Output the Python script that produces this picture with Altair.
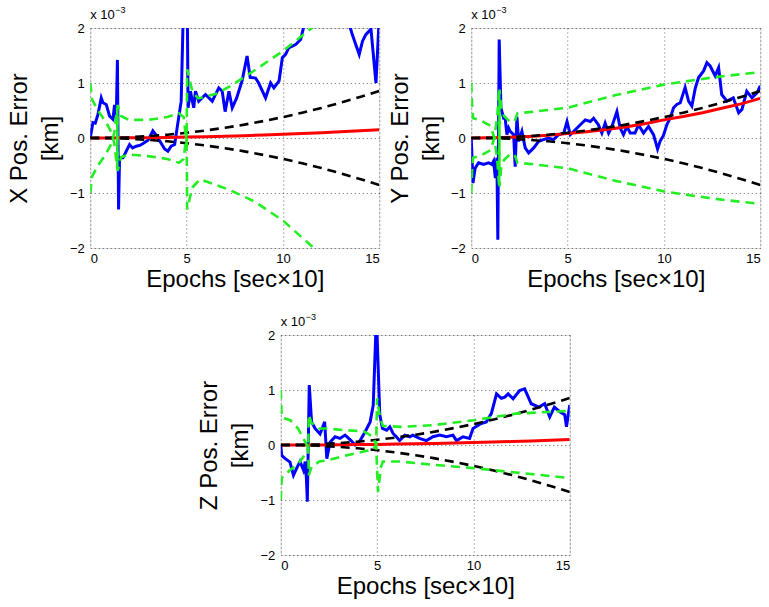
import altair as alt
import pandas as pd

FONT = "Liberation Sans"

# ---------------- data (values in units of 1e-3 km) ----------------
EPOCHS = [0, 1, 2, 3, 4, 5, 6, 7, 8, 9, 10, 11, 12, 13, 14, 15]
BOUND_UP = [0, 0.004, 0.015, 0.034, 0.06, 0.095, 0.137, 0.186, 0.243, 0.308, 0.38, 0.46, 0.547, 0.642, 0.745, 0.855]
BOUND_LO = [0, -0.004, -0.015, -0.034, -0.06, -0.095, -0.137, -0.186, -0.243, -0.308, -0.38, -0.46, -0.547, -0.642, -0.745, -0.855]

X_REF = [0, 0.001, 0.003, 0.006, 0.011, 0.017, 0.024, 0.033, 0.043, 0.054, 0.067, 0.081, 0.096, 0.113, 0.131, 0.15]
Y_REF = [0, 0.003, 0.012, 0.028, 0.05, 0.08, 0.115, 0.155, 0.2, 0.26, 0.33, 0.39, 0.46, 0.54, 0.62, 0.72]
Z_REF = [0, 0.001, 0.002, 0.004, 0.007, 0.011, 0.016, 0.022, 0.028, 0.036, 0.044, 0.053, 0.063, 0.074, 0.086, 0.1]

X_ERR = [(0, 0), (0.14, 0.28), (0.26, 0.27), (0.4, 0.43), (0.57, 0.73), (0.66, 0.64), (0.83, 0.61),
         (1.0, 0.4), (1.18, 0.34), (1.26, 0.6), (1.35, 0.37), (1.41, 1.42), (1.47, -1.3), (1.52, -0.36),
         (1.7, -0.36), (1.87, -0.24), (2.04, -0.12), (2.2, -0.18), (2.39, -0.15), (2.6, -0.13),
         (2.82, -0.08), (3.0, -0.04), (3.25, 0.13), (3.4, 0.06), (3.6, -0.05), (3.86, -0.2),
         (4.03, -0.24), (4.2, -0.15), (4.38, -0.12), (4.55, 0.28), (4.72, 0.67), (4.85, 2.6),
         (5.03, 2.6), (5.08, 0.55), (5.2, 0.85), (5.37, 0.55), (5.46, 0.85), (5.63, 0.67),
         (5.98, 0.79), (6.33, 0.67), (6.67, 0.91), (6.85, 0.85), (7.0, 0.48), (7.2, 0.85),
         (7.37, 0.55), (7.6, 0.73), (7.88, 1.04), (8.14, 1.49), (8.3, 1.1), (8.58, 1.09),
         (8.74, 1.0), (9.1, 0.73), (9.36, 1.0), (9.53, 0.91), (9.8, 1.04), (9.97, 1.46),
         (10.14, 1.52), (10.3, 1.64), (10.66, 1.7), (10.92, 1.79), (11.1, 2.05), (11.5, 2.3),
         (12.0, 2.5), (12.5, 2.4), (13.0, 2.5), (13.5, 2.0), (13.6, 1.88), (13.96, 1.52),
         (14.13, 1.76), (14.3, 1.88), (14.57, 1.98), (14.83, 1.0), (15.0, 2.2)]

Y_ERR = [(0, 0), (0.09, -0.82), (0.2, -0.55), (0.38, -0.45), (0.64, -0.48), (0.9, -0.45),
         (1.07, -0.48), (1.16, -0.42), (1.25, -0.73), (1.33, -0.36), (1.38, -1.85), (1.45, 1.79),
         (1.54, 0.55), (1.68, 0.36), (1.76, 0.36), (1.85, 0.06), (1.94, 0.18), (2.02, 0.12),
         (2.2, 0.06), (2.28, -0.52), (2.37, 0.39), (2.46, -0.06), (2.63, 0.12), (2.8, -0.18),
         (2.98, -0.27), (3.24, -0.18), (3.5, -0.06), (3.75, -0.03), (4.0, 0.0), (4.27, -0.03),
         (4.53, 0.06), (4.8, 0.09), (4.97, 0.3), (5.14, 0.06), (5.4, 0.15), (5.66, 0.24),
         (5.92, 0.33), (6.18, 0.3), (6.35, 0.36), (6.6, 0.24), (6.78, 0.09), (6.95, 0.27),
         (7.13, 0.09), (7.3, 0.21), (7.56, 0.48), (7.73, 0.18), (7.9, 0.06), (8.08, 0.21),
         (8.25, 0.09), (8.5, 0.09), (8.68, 0.24), (8.94, 0.09), (9.2, 0.21), (9.46, 0.06),
         (9.67, -0.2), (9.8, -0.06), (9.98, 0.05), (10.15, 0.24), (10.33, 0.37), (10.5, 0.55),
         (10.67, 0.61), (10.85, 0.64), (11.1, 0.92), (11.28, 0.67), (11.45, 0.58), (11.63, 0.91),
         (11.8, 1.1), (12.06, 1.22), (12.23, 1.37), (12.4, 1.31), (12.66, 1.13), (12.84, 1.28),
         (13.0, 0.79), (13.27, 0.67), (13.6, 0.73), (13.88, 0.46), (14.05, 0.52), (14.3, 0.85),
         (14.57, 0.73), (14.83, 0.82), (15.0, 0.95)]

Z_ERR = [(0, 0), (0.05, -0.19), (0.2, -0.24), (0.48, -0.31), (0.66, -0.55), (0.83, -0.42),
         (1.0, -0.3), (1.18, -0.46), (1.27, -0.3), (1.33, -0.6), (1.38, -1.03), (1.48, 1.09),
         (1.6, 0.42), (1.78, 0.3), (2.04, 0.2), (2.28, 0.42), (2.39, -0.25), (2.56, 0.05),
         (2.82, 0.15), (3.08, 0.12), (3.34, 0.18), (3.6, 0.1), (3.86, 0.0), (4.12, 0.08),
         (4.38, 0.24), (4.64, 0.42), (4.8, 0.72), (4.93, 2.0), (5.0, 2.0), (5.14, 0.55),
         (5.28, 0.3), (5.5, 0.27), (5.66, 0.33), (5.83, 0.21), (6.0, 0.15), (6.17, 0.08),
         (6.44, 0.18), (6.7, 0.15), (6.85, 0.18), (7.2, 0.12), (7.56, 0.08), (7.9, 0.15),
         (8.25, 0.18), (8.6, 0.15), (8.94, 0.18), (9.12, 0.08), (9.46, 0.15), (9.8, 0.12),
         (9.98, 0.3), (10.4, 0.39), (10.67, 0.42), (10.93, 0.57), (11.2, 0.93), (11.45, 0.85),
         (11.63, 0.87), (11.8, 0.93), (12.06, 0.84), (12.4, 0.99), (12.66, 1.02), (13.0, 0.75),
         (13.4, 0.69), (13.7, 0.75), (13.96, 0.51), (14.2, 0.69), (14.5, 0.6), (14.74, 0.55),
         (14.83, 0.33), (15.0, 0.73)]

X_COV_UP = [(0, 1.0), (0.1, 0.7), (0.4, 0.5), (0.8, 0.3), (1.1, 0.1), (1.25, -0.1), (1.4, -0.55),
            (1.42, 0.6), (1.6, 0.4), (2.0, 0.33), (3.0, 0.33), (4.0, 0.38), (4.6, 0.45), (4.85, 0.38),
            (4.97, 0.0), (5.0, -0.1), (5.03, 1.25), (5.3, 0.85), (5.6, 0.72), (6.5, 0.8), (7.3, 0.95),
            (8.4, 1.2), (10.0, 1.58), (11.5, 2.0), (13.0, 2.4), (15.0, 2.9)]
X_COV_LO = [(0, -1.0), (0.1, -0.7), (0.4, -0.5), (0.8, -0.3), (1.1, -0.1), (1.25, 0.1), (1.4, 0.55),
            (1.42, -0.6), (1.6, -0.35), (2.0, -0.3), (3.0, -0.33), (4.0, -0.38), (4.6, -0.45),
            (4.85, -0.38), (4.97, 0.0), (5.0, 0.1), (5.03, -1.3), (5.3, -0.9), (5.7, -0.75),
            (7.2, -0.94), (8.5, -1.15), (10.0, -1.5), (11.6, -2.0), (13.0, -2.4), (15.0, -2.9)]

Y_COV_UP = [(0, 1.0), (0.05, 0.55), (0.1, 0.36), (0.5, 0.32), (1.0, 0.22), (1.2, 0.0), (1.35, -0.4),
            (1.45, -0.9), (1.47, 0.88), (1.55, 0.55), (1.7, 0.4), (2.0, 0.3), (2.25, 0.3), (2.4, 0.45),
            (3.0, 0.47), (5.0, 0.55), (7.5, 0.78), (10.0, 0.97), (12.5, 1.1), (15.0, 1.2)]
Y_COV_LO = [(0, -1.0), (0.05, -0.55), (0.1, -0.36), (0.5, -0.32), (1.0, -0.22), (1.2, 0.0),
            (1.35, 0.4), (1.45, 0.9), (1.47, -0.88), (1.55, -0.55), (1.7, -0.4), (2.0, -0.3),
            (2.25, -0.3), (2.4, -0.45), (3.0, -0.47), (5.0, -0.55), (7.5, -0.78), (10.0, -0.97),
            (12.5, -1.1), (15.0, -1.2)]

Z_COV_UP = [(0, 1.0), (0.05, 0.5), (0.5, 0.45), (0.9, 0.3), (1.2, 0.1), (1.43, -0.05), (1.45, 0.55),
            (1.6, 0.4), (2.0, 0.3), (2.4, 0.3), (3.3, 0.27), (4.3, 0.25), (4.8, 0.15), (4.95, 0.0),
            (5.0, 0.85), (5.15, 0.5), (5.3, 0.35), (6.2, 0.33), (7.9, 0.36), (10.0, 0.45),
            (12.2, 0.57), (15.0, 0.62)]
Z_COV_LO = [(0, -1.0), (0.05, -0.6), (0.5, -0.45), (0.9, -0.35), (1.2, -0.2), (1.43, -0.05),
            (1.45, -0.55), (1.6, -0.4), (2.0, -0.3), (2.4, -0.28), (3.3, -0.2), (4.3, -0.12),
            (4.8, -0.08), (4.95, 0.0), (5.05, -0.85), (5.2, -0.4), (5.3, -0.3), (6.2, -0.3),
            (7.9, -0.36), (10.0, -0.42), (12.2, -0.5), (15.0, -0.6)]

X_TICKS = [0, 5, 10, 15]
Y_TICKS = [-2, -1, 0, 1, 2]

W, H = 289, 220


def pairs_df(pairs, name):
    return pd.DataFrame({"t": [p[0] for p in pairs], "v": [p[1] for p in pairs], "s": name})


def panel(label, err, ref, cov_up, cov_lo):
    xs = alt.Scale(domain=[0, 15], nice=False, zero=False)
    ys = alt.Scale(domain=[-2, 2], nice=False, zero=False)
    x_ax = alt.Axis(values=X_TICKS, format="d", title="Epochs [sec×10]", grid=True, ticks=False,
                    domain=False, gridDash=[1, 3], gridColor="black", gridOpacity=0.6, labelFont=FONT,
                    labelFontSize=13, labelColor="black", labelPadding=4, titleFont=FONT,
                    titleFontSize=24, titleFontWeight="normal", titleColor="black", titlePadding=2)
    y_ax = alt.Axis(values=Y_TICKS, format="d", title=[label, "[km]"], grid=True, ticks=False,
                    domain=False, gridDash=[1, 3], gridColor="black", gridOpacity=0.6, labelFont=FONT,
                    labelFontSize=13, labelColor="black", labelPadding=6, titleFont=FONT,
                    titleFontSize=24, titleFontWeight="normal", titleColor="black",
                    titleLineHeight=31, titleX=-59)
    x = alt.X("t:Q", scale=xs, axis=x_ax)
    y = alt.Y("v:Q", scale=ys, axis=y_ax)
    x2 = alt.X("t:Q", scale=xs)
    y2 = alt.Y("v:Q", scale=ys)

    err_df = pairs_df(err, "err")
    ref_df = pd.DataFrame({"t": EPOCHS, "v": ref, "s": "ref"})
    bnd_df = pd.concat([pd.DataFrame({"t": EPOCHS, "v": BOUND_UP, "s": "up"}),
                        pd.DataFrame({"t": EPOCHS, "v": BOUND_LO, "s": "lo"})])
    cov_df = pd.concat([pairs_df(cov_up, "up"), pairs_df(cov_lo, "lo")])

    blue = alt.Chart(err_df).mark_line(color="#0000ff", strokeWidth=3, clip=True).encode(x=x, y=y)
    red = alt.Chart(ref_df).mark_line(color="#ff0000", strokeWidth=3, clip=True).encode(x=x2, y=y2)
    black = alt.Chart(bnd_df).mark_line(color="black", strokeWidth=2.6, strokeDash=[9, 6],
                                        clip=True).encode(x=x2, y=y2, detail="s:N")
    green = alt.Chart(cov_df).mark_line(color="#22ee22", strokeWidth=2.6, strokeDash=[9, 6],
                                        clip=True).encode(x=x2, y=y2, detail="s:N")
    one = pd.DataFrame({"a": [0]})
    exp1 = alt.Chart(one).mark_text(text="x 10", align="left", baseline="alphabetic", font=FONT,
                                    fontSize=13, color="black").encode(x=alt.value(0), y=alt.value(-9))
    exp2 = alt.Chart(one).mark_text(text="−3", align="left", baseline="alphabetic", font=FONT,
                                    fontSize=9, color="black").encode(x=alt.value(25), y=alt.value(-15))
    return alt.layer(blue, red, black, green, exp1, exp2).properties(width=W, height=H)


p1 = panel("X Pos. Error", X_ERR, X_REF, X_COV_UP, X_COV_LO)
p2 = panel("Y Pos. Error", Y_ERR, Y_REF, Y_COV_UP, Y_COV_LO)
p3 = panel("Z Pos. Error", Z_ERR, Z_REF, Z_COV_UP, Z_COV_LO)

chart = alt.vconcat(alt.hconcat(p1, p2, spacing=7), p3, spacing=20, center=True).properties(
    padding={"left": 6, "top": 5, "right": 5, "bottom": 5}
).configure_view(stroke="black", strokeWidth=1).configure(background="white")

chart.save("out.html", embed_options={"renderer": "svg", "actions": False})
